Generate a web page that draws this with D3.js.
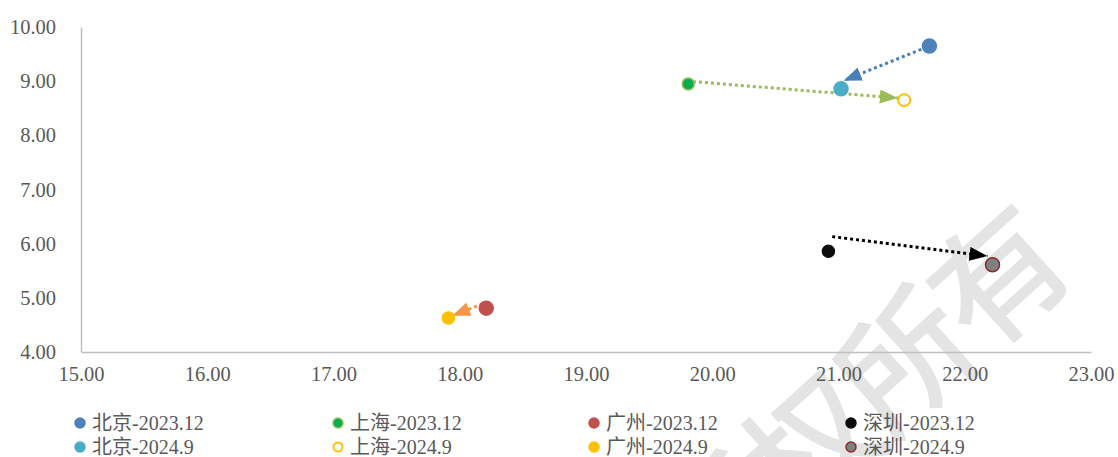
<!DOCTYPE html>
<html>
<head>
<meta charset="utf-8">
<script src="https://cdn.jsdelivr.net/npm/d3@7"></script>
<style>
  html, body { margin: 0; padding: 0; background: #fff; }
  svg { display: block; }
  .lbl { font-family: "Liberation Serif", "Times New Roman", "DejaVu Serif", "Noto Sans CJK SC", serif; }
</style>
</head>
<body>
<svg id="chart" width="1118" height="457"></svg>
<script>
// City names and the two survey periods
const cities = ["北京", "上海", "广州", "深圳"];
const periods = ["2023.12", "2024.9"];

// X and Y values per city, [2023.12, 2024.9]
const xValues = {
  "北京": [21.72, 21.02],
  "上海": [19.81, 21.52],
  "广州": [18.21, 17.91],
  "深圳": [20.92, 22.22]
};
const yValues = {
  "北京": [9.65, 8.86],
  "上海": [8.95, 8.65],
  "广州": [4.81, 4.63],
  "深圳": [5.86, 5.61]
};

// Movement arrows between periods: [x0, y0, x1, y1] in data units
const arrowX0 = [21.70, 19.80, 18.18, 20.95];
const arrowY0 = [9.63, 9.00, 4.89, 6.13];
const arrowX1 = [21.04, 21.47, 17.94, 22.18];
const arrowY1 = [9.01, 8.69, 4.67, 5.77];
const arrowColors = ["#4A7EBB", "#9BBB59", "#F79646", "#000000"];

// Axis ticks
const xTicks = [15, 16, 17, 18, 19, 20, 21, 22, 23];
const yTicks = [4, 5, 6, 7, 8, 9, 10];

// Marker styles for each series, in legend order
const seriesStyle = [
  { city: "北京", p: 0, fill: "#4F81BD", stroke: "#4F81BD", r: 7 },
  { city: "上海", p: 0, fill: "#00B050", stroke: "#9BBB59", r: 6 },
  { city: "广州", p: 0, fill: "#C0504D", stroke: "#C0504D", r: 7 },
  { city: "深圳", p: 0, fill: "#0D0D0D", stroke: "#0D0D0D", r: 6 },
  { city: "北京", p: 1, fill: "#4BACC6", stroke: "#4BACC6", r: 7 },
  { city: "上海", p: 1, fill: "#FFFFFF", stroke: "#FFC000", r: 6 },
  { city: "广州", p: 1, fill: "#FFC000", stroke: "#FFC000", r: 6 },
  { city: "深圳", p: 1, fill: "#808080", stroke: "#8B2B2B", r: 7 }
];

const svg = d3.select("#chart");

const x = d3.scaleLinear().domain([15, 23]).range([81, 1091]);
const y = d3.scaleLinear().domain([4, 10]).range([352, 27]);

// Watermark behind the chart, one glyph at a time along a slanted line
const wmChars = Array.from("版权所有");
const wm = svg.append("g")
  .attr("transform", "translate(993,270) rotate(-42)");
wm.selectAll("text")
  .data(wmChars)
  .join("text")
  .attr("x", (d, i) => -(wmChars.length - 1 - i) * 126)
  .attr("y", 0)
  .attr("text-anchor", "middle")
  .attr("dominant-baseline", "central")
  .attr("font-family", "Noto Sans CJK SC, sans-serif")
  .attr("font-weight", 500)
  .attr("font-size", 132)
  .attr("fill", "#e4e4e4")
  .text(d => d);

// Axes
const gx = svg.append("g").attr("transform", `translate(0,${y(4)})`)
  .call(d3.axisBottom(x).tickValues(xTicks).tickSize(0).tickPadding(14)
    .tickFormat(d3.format(".2f")));
const gy = svg.append("g").attr("transform", `translate(${x(15)},0)`)
  .call(d3.axisLeft(y).tickValues(yTicks).tickSize(0).tickPadding(25)
    .tickFormat(d3.format(".2f")));
[gx, gy].forEach(g => {
  g.attr("font-family", null).attr("font-size", null);
  g.select(".domain").attr("stroke", "#BFBFBF").attr("stroke-width", 1.5);
  g.selectAll("text")
    .attr("class", "lbl")
    .attr("fill", "#595959")
    .attr("font-size", 20.5);
});
gx.selectAll("text").attr("dy", "0.71em");

// Arrowhead markers
const defs = svg.append("defs");
arrowColors.forEach((c, i) => {
  defs.append("marker")
    .attr("id", "arrow" + i)
    .attr("markerUnits", "userSpaceOnUse")
    .attr("viewBox", "0 0 18 14")
    .attr("refX", 18).attr("refY", 7)
    .attr("markerWidth", 18).attr("markerHeight", 14)
    .attr("orient", "auto")
    .append("path")
    .attr("d", "M0,0 L18,7 L0,14 Z")
    .attr("fill", c);
});

// Movement arrows
svg.append("g").selectAll("line")
  .data(d3.range(arrowX0.length))
  .join("line")
  .attr("x1", i => x(arrowX0[i]))
  .attr("y1", i => y(arrowY0[i]))
  .attr("x2", i => x(arrowX1[i]))
  .attr("y2", i => y(arrowY1[i]))
  .attr("stroke", i => arrowColors[i])
  .attr("stroke-width", 3)
  .attr("stroke-dasharray", "3 3")
  .attr("marker-end", i => `url(#arrow${i})`);

// Data points
svg.append("g").selectAll("circle")
  .data(seriesStyle)
  .join("circle")
  .attr("cx", d => x(xValues[d.city][d.p]))
  .attr("cy", d => y(yValues[d.city][d.p]))
  .attr("r", d => d.r)
  .attr("fill", d => d.fill)
  .attr("stroke", d => d.stroke)
  .attr("stroke-width", d => d.fill === "#FFFFFF" ? 2 : 1.5);

// Legend: two rows, four columns
const colX = [80, 338, 594, 851];
const rowY = [423, 447];
const legend = svg.append("g").selectAll("g")
  .data(seriesStyle)
  .join("g")
  .attr("transform", (d, i) => `translate(${colX[i % 4]},${rowY[Math.floor(i / 4)]})`);
legend.append("circle")
  .attr("r", d => d.fill === "#FFFFFF" ? 4.5 : 5)
  .attr("fill", d => d.fill)
  .attr("stroke", d => d.stroke)
  .attr("stroke-width", d => d.fill === "#FFFFFF" ? 2 : 1.5);
legend.append("text")
  .attr("class", "lbl")
  .attr("x", 12)
  .attr("dy", "0.35em")
  .attr("fill", "#595959")
  .attr("font-size", 20)
  .text(d => `${d.city}-${periods[d.p]}`);
</script>
</body>
</html>
